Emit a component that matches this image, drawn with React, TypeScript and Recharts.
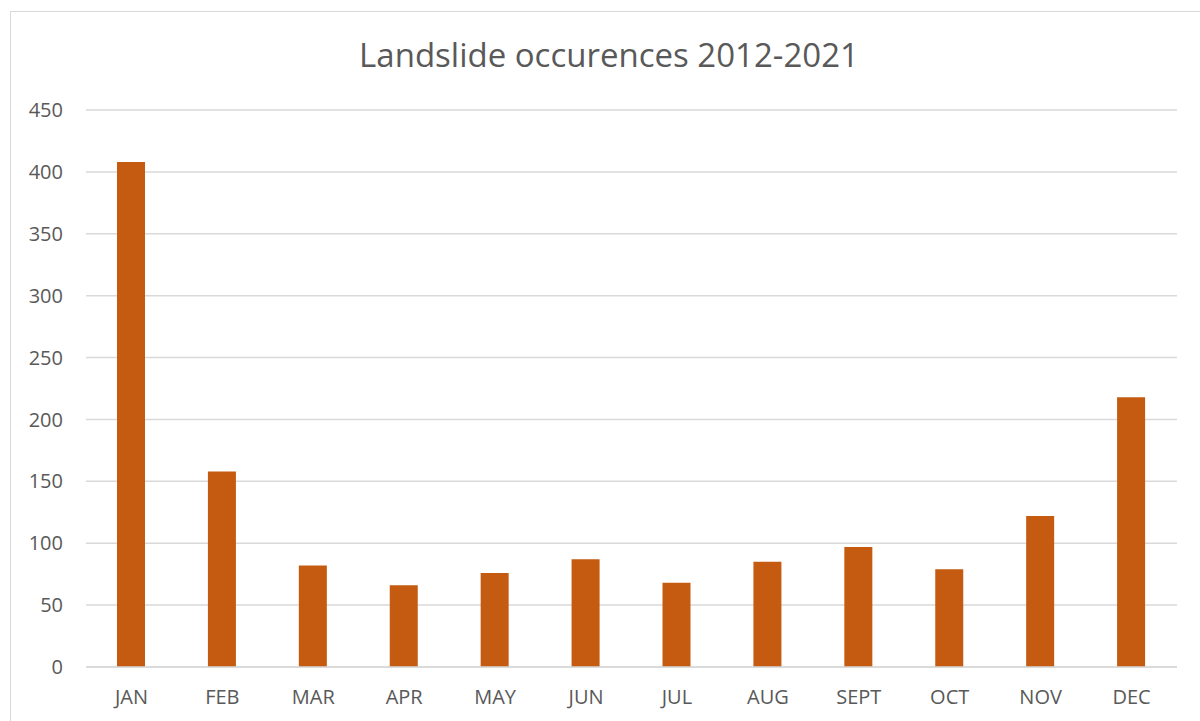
import React from "react";
import { BarChart, Bar, XAxis, YAxis, CartesianGrid } from "recharts";

const months = ["JAN", "FEB", "MAR", "APR", "MAY", "JUN", "JUL", "AUG", "SEPT", "OCT", "NOV", "DEC"];
const occurrences = [408, 158, 82, 66, 76, 87, 68, 85, 97, 79, 122, 218];
const yTicks = [0, 50, 100, 150, 200, 250, 300, 350, 400, 450];

const data = months.map((m, i) => ({ month: m, count: occurrences[i] }));

const font = "'Open Sans', sans-serif";
const textColor = "#595959";
const gridColor = "#d9d9d9";

export default function App() {
  return (
    <div style={{ position: "relative", width: 1200, height: 721, overflow: "hidden", background: "#fff" }}>
      <style>{"body{margin:0}"}</style>
      <div
        style={{
          position: "absolute",
          left: 10,
          top: 11,
          width: 1200,
          height: 730,
          border: `1px solid ${gridColor}`,
          boxSizing: "border-box",
        }}
      />
      <div
        style={{
          position: "absolute",
          left: 10,
          top: 38,
          width: 1198,
          textAlign: "center",
          fontFamily: font,
          fontSize: 33,
          lineHeight: "33px",
          color: textColor,
        }}
      >
        Landslide occurences 2012-2021
      </div>
      <div style={{ position: "absolute", left: 0, top: 0 }}>
        <BarChart width={1200} height={721} data={data} margin={{ top: 110, right: 23, left: 0, bottom: 0 }}>
          <CartesianGrid vertical={false} stroke={gridColor} strokeWidth={1.5} />
          <XAxis
            dataKey="month"
            height={54}
            axisLine={{ stroke: gridColor, strokeWidth: 1.5 }}
            tickLine={false}
            tickMargin={17}
            tick={{ fill: textColor, fontSize: 20, fontFamily: font }}
          />
          <YAxis
            width={86}
            domain={[0, 450]}
            ticks={yTicks}
            axisLine={false}
            tickLine={false}
            tickMargin={17}
            tick={{ fill: textColor, fontSize: 20, fontFamily: font }}
          />
          <Bar dataKey="count" fill="#C55A11" barSize={28} isAnimationActive={false} />
        </BarChart>
      </div>
    </div>
  );
}
